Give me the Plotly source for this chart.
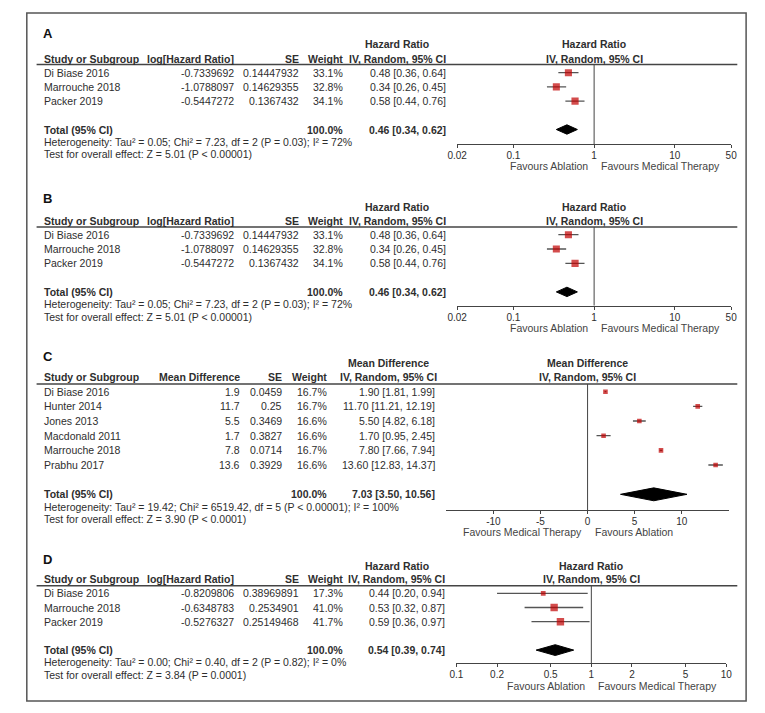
import math
import plotly.graph_objects as go

# page is 765x713 with an 8px body margin, so the figure is 749x697
OFF = 8
W, H = 765 - 2 * OFF, 713 - 2 * OFF

# ---------------- data ----------------
# Panel A
a_studies = ["Di Biase 2016", "Marrouche 2018", "Packer 2019"]
a_effect = [-0.7339692, -1.0788097, -0.5447272]
a_se = [0.14447932, 0.14629355, 0.1367432]
a_weight = [33.1, 32.8, 34.1]
a_est = [0.48, 0.34, 0.58]
a_lo = [0.36, 0.26, 0.44]
a_hi = [0.64, 0.45, 0.76]
a_total = [0.46, 0.34, 0.62]
a_total_weight = 100.0
a_het = "Heterogeneity: Tau² = 0.05; Chi² = 7.23, df = 2 (P = 0.03); I² = 72%"
a_test = "Test for overall effect: Z = 5.01 (P < 0.00001)"

# Panel B
b_studies = ["Di Biase 2016", "Marrouche 2018", "Packer 2019"]
b_effect = [-0.7339692, -1.0788097, -0.5447272]
b_se = [0.14447932, 0.14629355, 0.1367432]
b_weight = [33.1, 32.8, 34.1]
b_est = [0.48, 0.34, 0.58]
b_lo = [0.36, 0.26, 0.44]
b_hi = [0.64, 0.45, 0.76]
b_total = [0.46, 0.34, 0.62]
b_total_weight = 100.0
b_het = "Heterogeneity: Tau² = 0.05; Chi² = 7.23, df = 2 (P = 0.03); I² = 72%"
b_test = "Test for overall effect: Z = 5.01 (P < 0.00001)"

# Panel C
c_studies = ["Di Biase 2016", "Hunter 2014", "Jones 2013", "Macdonald 2011",
             "Marrouche 2018", "Prabhu 2017"]
c_effect = [1.9, 11.7, 5.5, 1.7, 7.8, 13.6]
c_se = [0.0459, 0.25, 0.3469, 0.3827, 0.0714, 0.3929]
c_weight = [16.7, 16.7, 16.6, 16.6, 16.7, 16.6]
c_est = [1.90, 11.70, 5.50, 1.70, 7.80, 13.60]
c_lo = [1.81, 11.21, 4.82, 0.95, 7.66, 12.83]
c_hi = [1.99, 12.19, 6.18, 2.45, 7.94, 14.37]
c_total = [7.03, 3.50, 10.56]
c_total_weight = 100.0
c_het = "Heterogeneity: Tau² = 19.42; Chi² = 6519.42, df = 5 (P < 0.00001); I² = 100%"
c_test = "Test for overall effect: Z = 3.90 (P < 0.0001)"

# Panel D
d_studies = ["Di Biase 2016", "Marrouche 2018", "Packer 2019"]
d_effect = [-0.8209806, -0.6348783, -0.5276327]
d_se = [0.38969891, 0.2534901, 0.25149468]
d_weight = [17.3, 41.0, 41.7]
d_est = [0.44, 0.53, 0.59]
d_lo = [0.20, 0.32, 0.36]
d_hi = [0.94, 0.87, 0.97]
d_total = [0.54, 0.39, 0.74]
d_total_weight = 100.0
d_het = "Heterogeneity: Tau² = 0.00; Chi² = 0.40, df = 2 (P = 0.82); I² = 0%"
d_test = "Test for overall effect: Z = 3.84 (P = 0.0001)"

hr_ticks_ab = [0.02, 0.1, 1, 10, 50]
md_ticks_c = [-10, -5, 0, 5, 10]
hr_ticks_d = [0.1, 0.2, 0.5, 1, 2, 5, 10]

# ---------------- layout (page pixel positions) ----------------
panels = [
    dict(letter="A", studies=a_studies, eff=a_effect, se=a_se, w=a_weight,
         est=a_est, lo=a_lo, hi=a_hi, tot=a_total, totw=a_total_weight,
         het=a_het, test=a_test,
         eff_hdr="log[Hazard Ratio]", measure="Hazard Ratio", log=True,
         ticks=hr_ticks_ab, xr=(0.02, 50), null=1,
         fav_l="Favours Ablation", fav_r="Favours Medical Therapy",
         letter_y=33, hdr1=44.3, hdr2=58.5, line=64.5, row0=72.7, pitch=14.2,
         axis=144, x0=456.7, x1=736.7, box=7.2, dh=0.33,
         eff_r=231, se_r=297, w_r=342, ci_r=447, ci_c=395.5),
    dict(letter="B", studies=b_studies, eff=b_effect, se=b_se, w=b_weight,
         est=b_est, lo=b_lo, hi=b_hi, tot=b_total, totw=b_total_weight,
         het=b_het, test=b_test,
         eff_hdr="log[Hazard Ratio]", measure="Hazard Ratio", log=True,
         ticks=hr_ticks_ab, xr=(0.02, 50), null=1,
         fav_l="Favours Ablation", fav_r="Favours Medical Therapy",
         letter_y=198.3, hdr1=206.5, hdr2=221, line=227, row0=234.7, pitch=14.3,
         axis=305.7, x0=456.7, x1=736.7, box=7.2, dh=0.33,
         eff_r=231, se_r=297, w_r=342, ci_r=447, ci_c=395.5),
    dict(letter="C", studies=c_studies, eff=c_effect, se=c_se, w=c_weight,
         est=c_est, lo=c_lo, hi=c_hi, tot=c_total, totw=c_total_weight,
         het=c_het, test=c_test,
         eff_hdr="Mean Difference", measure="Mean Difference", log=False,
         ticks=md_ticks_c, xr=(-15, 15), null=0,
         fav_l="Favours Medical Therapy", fav_r="Favours Ablation",
         letter_y=356.7, hdr1=362.8, hdr2=376.7, line=384, row0=391.7, pitch=14.66,
         axis=510, x0=445.7, x1=734.3, box=4.6, dh=0.44,
         eff_r=236.5, se_r=280, w_r=326, ci_r=436, ci_c=386.5),
    dict(letter="D", studies=d_studies, eff=d_effect, se=d_se, w=d_weight,
         est=d_est, lo=d_lo, hi=d_hi, tot=d_total, totw=d_total_weight,
         het=d_het, test=d_test,
         eff_hdr="log[Hazard Ratio]", measure="Hazard Ratio", log=True,
         ticks=hr_ticks_d, xr=(0.1, 10), null=1,
         fav_l="Favours Ablation", fav_r="Favours Medical Therapy",
         letter_y=559, hdr1=565.7, hdr2=579.3, line=585.7, row0=593.3, pitch=14.2,
         axis=663.3, x0=456, x1=731.7, box=7.4, dh=0.38,
         eff_r=231, se_r=297, w_r=342, ci_r=446, ci_c=395),
]

TXT = "#2e2e2e"
FONT = "Liberation Sans, Arial, sans-serif"
RED = "#C00000"
FS = 10.5


def px(x):
    return (x - OFF) / W


def py(y):
    return 1 - (y - OFF) / H


fig = go.Figure()
annotations = []
shapes = []
layout_axes = {}


def text(x, y, s, anchor="left", bold=False, size=FS, xref="paper", color=TXT):
    if bold:
        s = "<b>" + s + "</b>"
    annotations.append(dict(x=x, y=y, xref=xref, yref="paper", text=s,
                            showarrow=False, xanchor=anchor, yanchor="middle",
                            font=dict(size=size, color=color, family=FONT)))


for i, p in enumerate(panels, start=1):
    sfx = "" if i == 1 else str(i)
    xa, ya = "x" + sfx, "y" + sfx
    n = len(p["studies"])
    rows = list(range(n))
    total_row = n + 1
    row0, pitch = p["row0"], p["pitch"]

    def rpx(r):
        return row0 + r * pitch

    y_top = (p["line"] - row0) / pitch
    y_bot = (p["axis"] - row0) / pitch

    # null line
    fig.add_trace(go.Scatter(x=[p["null"], p["null"]], y=[y_top, y_bot], mode="lines",
                             line=dict(color="#444", width=1), xaxis=xa, yaxis=ya,
                             hoverinfo="skip", showlegend=False))
    # study estimates
    wmax = max(p["w"])
    sizes = [p["box"] * math.sqrt(w / wmax) for w in p["w"]]
    fig.add_trace(go.Scatter(
        x=p["est"], y=rows, mode="markers",
        marker=dict(symbol="square", size=sizes, color=RED, line=dict(width=0)),
        error_x=dict(type="data", symmetric=False,
                     array=[h - e for e, h in zip(p["est"], p["hi"])],
                     arrayminus=[e - l for e, l in zip(p["est"], p["lo"])],
                     width=0, thickness=1.3, color="#555"),
        xaxis=xa, yaxis=ya, showlegend=False, hoverinfo="skip"))
    # pooled diamond
    te, tl, th = p["tot"]
    hh = p["dh"]
    fig.add_trace(go.Scatter(
        x=[tl, te, th, te, tl],
        y=[total_row, total_row - hh, total_row, total_row + hh, total_row],
        mode="lines", fill="toself", fillcolor="black",
        line=dict(color="black", width=1), xaxis=xa, yaxis=ya,
        showlegend=False, hoverinfo="skip"))

    if p["log"]:
        xrange = [math.log10(p["xr"][0]), math.log10(p["xr"][1])]
        ann_null = math.log10(p["null"])
    else:
        xrange = list(p["xr"])
        ann_null = p["null"]
    axtype = "log" if p["log"] else "linear"
    ticktext = [f"{t:g}" for t in p["ticks"]]

    layout_axes["xaxis" + sfx] = dict(
        domain=[px(p["x0"]), px(p["x1"])], anchor=ya, type=axtype, range=xrange,
        tickmode="array", tickvals=p["ticks"], ticktext=ticktext,
        ticks="outside", ticklen=3, tickwidth=1, tickcolor="#444",
        ticklabelstandoff=-1,
        showline=True, linecolor="#444", linewidth=1, showgrid=False,
        zeroline=False, tickfont=dict(size=10, color=TXT, family=FONT),
        fixedrange=True)
    layout_axes["yaxis" + sfx] = dict(
        domain=[py(p["axis"]), py(p["line"])], anchor=xa, range=[y_bot, y_top],
        visible=False, fixedrange=True)
    # overlay axis for the upward half of each tick
    layout_axes["xaxis" + str(4 + i)] = dict(
        overlaying=xa, anchor=ya, type=axtype, range=xrange,
        tickmode="array", tickvals=p["ticks"], ticks="inside", ticklen=3,
        tickwidth=1, tickcolor="#444", showticklabels=False, showline=False,
        showgrid=False, zeroline=False, fixedrange=True)

    # panel letter
    text(px(31), py(p["letter_y"]), p["letter"], bold=True, size=13, color="#111")
    # header rows
    text(px(p["ci_c"]), py(p["hdr1"]), p["measure"], anchor="center", bold=True)
    text(px(33), py(p["hdr2"]), "Study or Subgroup", bold=True)
    text(px(p["eff_r"]), py(p["hdr2"]), p["eff_hdr"], anchor="right", bold=True)
    text(px(p["se_r"]), py(p["hdr2"]), "SE", anchor="right", bold=True)
    text(px(p["w_r"]), py(p["hdr2"]), "Weight", anchor="right", bold=True)
    text(px(p["ci_c"]), py(p["hdr2"]), "IV, Random, 95% CI", anchor="center", bold=True)
    # plot headers
    for hy, htxt in ((p["hdr1"], p["measure"]), (p["hdr2"], "IV, Random, 95% CI")):
        annotations.append(dict(x=ann_null, y=py(hy), xref=xa, yref="paper",
                                text="<b>" + htxt + "</b>", showarrow=False,
                                xanchor="center", yanchor="middle",
                                font=dict(size=FS, color=TXT, family=FONT)))
    # header rule
    shapes.append(dict(type="line", xref="paper", yref="paper",
                       x0=px(27), x1=px(743), y0=py(p["line"]), y1=py(p["line"]),
                       line=dict(color="#444", width=1.5)))
    # study rows
    for r, (s, e, se, w, est, lo, hi) in enumerate(zip(p["studies"], p["eff"], p["se"],
                                                       p["w"], p["est"], p["lo"], p["hi"])):
        yy = py(rpx(r))
        text(px(33), yy, s)
        text(px(p["eff_r"]), yy, str(e), anchor="right")
        text(px(p["se_r"]), yy, str(se), anchor="right")
        text(px(p["w_r"]), yy, f"{w:.1f}%", anchor="right")
        text(px(p["ci_r"]), yy, f"{est:.2f} [{lo:.2f}, {hi:.2f}]", anchor="right")
    # total row
    ty = rpx(total_row)
    text(px(33), py(ty), "Total (95% CI)", bold=True)
    text(px(p["w_r"]), py(ty), f"{p['totw']:.1f}%", anchor="right", bold=True)
    text(px(p["ci_r"]), py(ty), f"{te:.2f} [{tl:.2f}, {th:.2f}]", anchor="right", bold=True)
    text(px(33), py(ty + 12.3), p["het"])
    text(px(33), py(ty + 24.8), p["test"])
    # favours labels
    fy = py(p["axis"] + 22.3)
    annotations.append(dict(x=ann_null, y=fy, xref=xa, yref="paper", text=p["fav_l"],
                            showarrow=False, xanchor="right", yanchor="middle", xshift=-4,
                            font=dict(size=FS, color="#444", family=FONT)))
    annotations.append(dict(x=ann_null, y=fy, xref=xa, yref="paper", text=p["fav_r"],
                            showarrow=False, xanchor="left", yanchor="middle", xshift=5,
                            font=dict(size=FS, color="#444", family=FONT)))

# outer frame
shapes.append(dict(type="rect", xref="paper", yref="paper",
                   x0=px(17), x1=px(752), y0=py(701), y1=py(13),
                   line=dict(color="#555", width=1.5)))

fig.update_layout(
    width=W, height=H, margin=dict(l=0, r=0, t=0, b=0),
    paper_bgcolor="white", plot_bgcolor="white",
    font=dict(family=FONT, size=FS, color=TXT),
    showlegend=False, annotations=annotations, shapes=shapes,
    **layout_axes)

fig.write_html("out.html")
